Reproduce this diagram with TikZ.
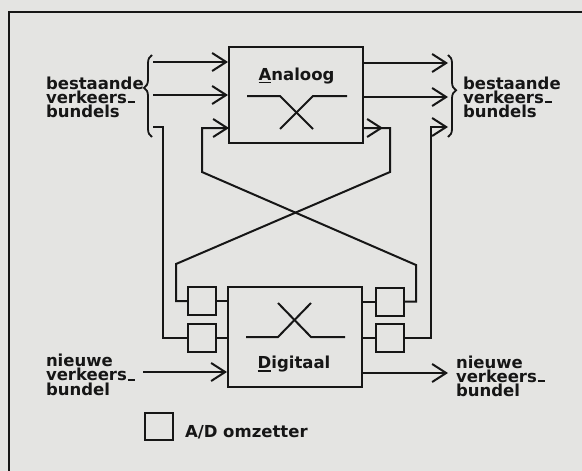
\documentclass[tikz,border=0pt]{standalone}
\usepackage{fontspec}
\setmainfont{DejaVu Sans}
\usetikzlibrary{arrows.meta,decorations.pathreplacing}
\definecolor{bg}{RGB}{228,228,226}
\definecolor{ink}{RGB}{22,22,22}
\newcommand{\ulfirst}[1]{\setbox0\hbox{#1}\rlap{\rule[-3.4pt]{\wd0}{1.6pt}}\box0}
\newcommand{\lowdash}{\kern0.6pt\rule[0pt]{7pt}{1.9pt}}
\begin{document}
\begin{tikzpicture}[x=1pt,y=-1pt, line width=2pt, color=ink,
  tip/.style={-{Straight Barb[length=14pt,width=18pt]}},
  box/.style={draw=ink, line width=2pt, inner sep=0pt},
  adbox/.style={box, minimum width=28, minimum height=28},
  lbl/.style={font=\bfseries\fontsize{16.5}{14.3}\selectfont, inner sep=0pt, align=left, text=ink},
  brc/.style={decorate, decoration={brace, amplitude=8pt}, line width=1.8pt}]
\useasboundingbox (0,0) rectangle (582,471);
\fill[bg] (0,0) rectangle (582,471);
% frame
\draw[line width=2.6pt] (582,12) -- (9,12) -- (9,471);

% main boxes
\node[box, minimum width=134, minimum height=96] (A) at (296,95) {};
\node[box, minimum width=134, minimum height=100] (D) at (295,337) {};
\node[lbl, anchor=base] (At) at (296.5,80) {\ulfirst{A}naloog};
\node[lbl, anchor=base] (Dt) at (294,368.5) {\ulfirst{D}igitaal};

% A/D converters
\node[adbox] (LU) at (202,301) {};
\node[adbox] (LL) at (202,337.5) {};
\node[adbox] (RU) at (390,301.5) {};
\node[adbox] (RL) at (390,338) {};
\draw (LU.east) -- (LU.east -| D.west);
\draw (LL.east) -- (LL.east -| D.west);
\draw (RU.west) -- (RU.west -| D.east);
\draw (RL.west) -- (RL.west -| D.east);

% switch symbols
\draw (247,96) -- (280,96) -- (313,129);
\draw (347,96) -- (313,96) -- (280,129);
\draw (246,337) -- (278,337) -- (311,303);
\draw (345,337) -- (311,337) -- (278,303);

% existing bundles in / out
\coordinate (i1) at (153,62);
\coordinate (i2) at (153,95);
\coordinate (i3) at (153,127);
\draw[tip] (i1) -- (i1 -| A.west);
\draw[tip] (i2) -- (i2 -| A.west);
\draw (i3) -- ++(10,0) |- (LL.west);
\coordinate (o1) at (448,63);
\coordinate (o2) at (448,97);
\coordinate (o3) at (448,127);
\coordinate (rc) at (431,127);
\draw[tip] (o1 -| A.east) -- (o1);
\draw[tip] (o2 -| A.east) -- (o2);
\draw[tip] (RL.east) -| (rc) -- (o3);

% crossing paths
\coordinate (ae) at (363,128);
\coordinate (aw) at (229,128);
\coordinate (ca) at (383,128);
\draw (LU.west) -| (176,264) -- (390,172) -- (390,128) -- (ae);
\draw[tip] (ae) -- (ca);
\draw[tip] (RU.east) -| (416,265) -- (202,172) |- (aw);

% braces
\draw[brc, decoration={aspect=0.6}] (152,137) -- (152,55);
\draw[brc, decoration={aspect=0.43}] (448,55) -- (448,137);

% new bundle
\coordinate (ni) at (143,372);
\coordinate (no) at (448,373);
\draw[tip] (ni) -- (ni -| D.west);
\draw[tip] (no -| D.east) -- (no);

% labels
\node[lbl, anchor=north west] (lb) at (45,75.5) {bestaande\\verkeers\lowdash\\bundels};
\node[lbl, anchor=north west] (rb) at (462,75.5) {bestaande\\verkeers\lowdash\\bundels};
\node[lbl, anchor=north west] (ln) at (45,353) {nieuwe\\verkeers\lowdash\\bundel};
\node[lbl, anchor=north west] (rn) at (455,354.5) {nieuwe\\verkeers\lowdash\\bundel};

% legend
\node[box, minimum width=28, minimum height=27] (leg) at (159,426.5) {};
\node[lbl, anchor=base west] (legt) at (184,437) {A/D omzetter};
\end{tikzpicture}
\end{document}
